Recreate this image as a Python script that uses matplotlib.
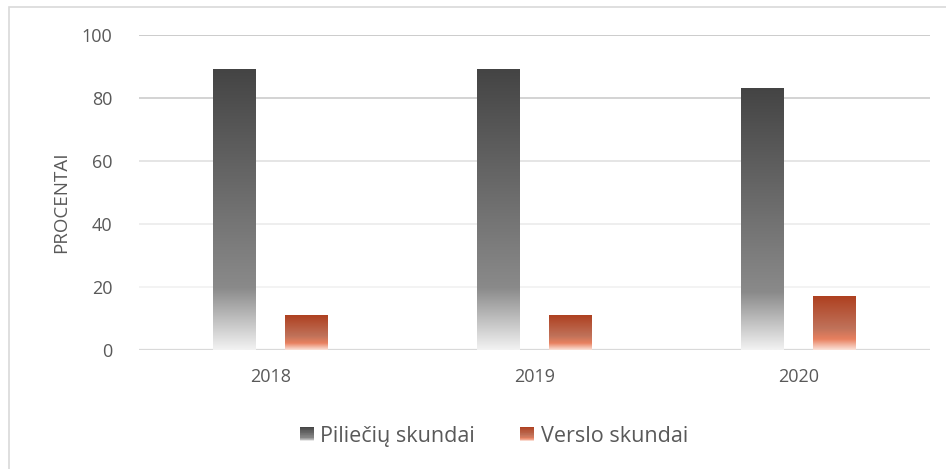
import matplotlib
matplotlib.use("Agg")
import matplotlib.pyplot as plt
import numpy as np
from matplotlib.colors import LinearSegmentedColormap
from matplotlib.patches import Rectangle
from matplotlib.legend_handler import HandlerBase

plt.rcParams['font.family'] = ['Open Sans', 'DejaVu Sans']

years = ["2018", "2019", "2020"]
series_names = ["Piliečių skundai", "Verslo skundai"]
pilieciu = [89, 89, 83]
verslo = [11, 11, 17]
yticks = [0, 20, 40, 60, 80, 100]
ylabel = "PROCENTAI"

text_color = "#595959"

# gradients: position 0 = bottom of bar, 1 = top
gray_cmap = LinearSegmentedColormap.from_list(
    "g", [(0.0, "#f2f2f2"), (0.22, "#8a8a8a"), (1.0, "#444444")])
orange_cmap = LinearSegmentedColormap.from_list(
    "o", [(0.0, "#fbe3da"), (0.2, "#e8805f"), (0.4, "#c0725a"), (1.0, "#ae4020")])

fig = plt.figure(figsize=(9.46, 4.69), dpi=100)
W, H = 946, 469
ax = fig.add_axes([139 / W, 1 - 350 / H, (930 - 139) / W, (350 - 35) / H])

# figure border (left/top visible)
fig.patches.append(Rectangle((9 / W, -0.1), 1.2, (1 - 7 / H) + 0.1,
                             transform=fig.transFigure, fill=False,
                             edgecolor="#d9d9d9", linewidth=1.2))

ax.set_xlim(-0.5, 2.5)
ax.set_ylim(0, 100)

grid_colors = {0: "#d9d9d9", 20: "#f2f2f2", 40: "#ededed", 60: "#e3e3e3", 80: "#d0d0d0", 100: "#c8c8c8"}
for t in yticks:
    ax.axhline(t, color=grid_colors[t], linewidth=1.3 if t else 1.6, zorder=0)

bw = 0.163
off = 0.137
grad = np.linspace(0, 1, 256).reshape(-1, 1)
for i, (p, v) in enumerate(zip(pilieciu, verslo)):
    for val, xc, cmap in ((p, i - off, gray_cmap), (v, i + off, orange_cmap)):
        ax.imshow(grad, cmap=cmap, origin="lower", aspect="auto",
                  extent=(xc - bw / 2, xc + bw / 2, 0, val), zorder=2,
                  interpolation="bilinear")
ax.set_xlim(-0.5, 2.5)
ax.set_ylim(0, 100)

ax.set_xticks(range(len(years)))
ax.set_xticklabels(years)
ax.set_yticks(yticks)
ax.tick_params(length=0, colors=text_color, labelsize=13)
ax.tick_params(axis="y", pad=19)
ax.tick_params(axis="x", pad=13)
for s in ax.spines.values():
    s.set_visible(False)
ax.set_ylabel(ylabel, color=text_color, fontsize=13.5)
ax.yaxis.set_label_coords(-0.087, 0.47)


class GradHandler(HandlerBase):
    def __init__(self, cmap):
        super().__init__()
        self.cmap = cmap

    def create_artists(self, legend, orig_handle, xdescent, ydescent,
                       width, height, fontsize, trans):
        arts = []
        n = 20
        side = height * 0.95
        x0 = -xdescent + width - side
        y0 = -ydescent + (height - side) / 2
        for k in range(n):
            c = self.cmap(1 - (k + 0.5) / n)
            r = Rectangle((x0, y0 + side * (1 - (k + 1) / n)), side, side / n,
                          facecolor=c, edgecolor="none", transform=trans)
            arts.append(r)
        return arts


h1 = Rectangle((0, 0), 1, 1)
h2 = Rectangle((0, 0), 1, 1)
leg = fig.legend([h1, h2], series_names,
                 handler_map={h1: GradHandler(gray_cmap), h2: GradHandler(orange_cmap)},
                 loc="center", bbox_to_anchor=(493 / W, 1 - 436 / H), ncol=2,
                 frameon=False, fontsize=15.5, labelcolor=text_color,
                 handlelength=0.75, handletextpad=0.3, columnspacing=2.0)

fig.savefig("out.png", dpi=100)
